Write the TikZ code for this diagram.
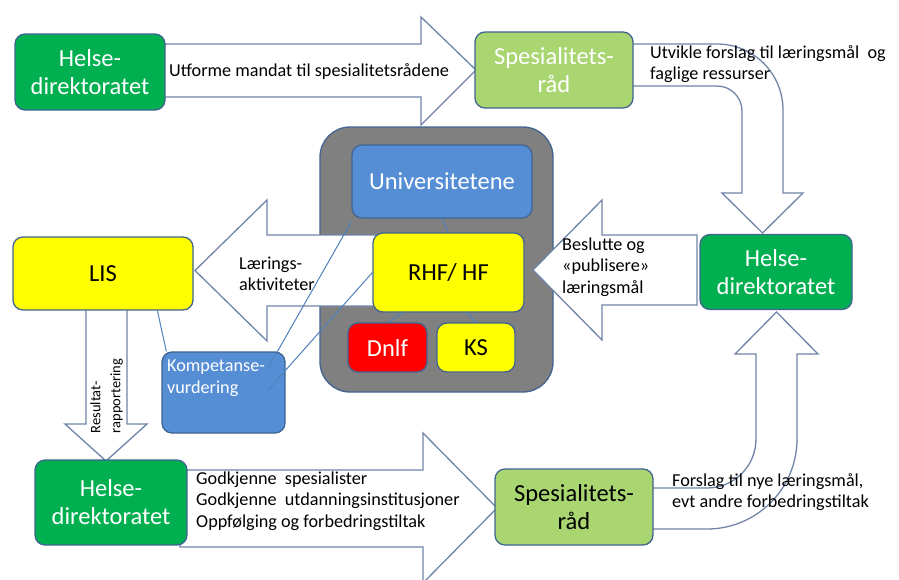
\documentclass[tikz,border=0pt]{standalone}
\usepackage{fontspec}
\setmainfont{Carlito}
\usetikzlibrary{calc}
\definecolor{hgreen}{RGB}{0,176,80}
\definecolor{lgreen}{RGB}{169,214,112}
\definecolor{hblue}{RGB}{85,142,213}
\definecolor{hyellow}{RGB}{255,255,0}
\definecolor{hred}{RGB}{255,0,0}
\definecolor{hgray}{RGB}{128,128,128}
\definecolor{boxline}{RGB}{65,100,145}
\definecolor{arrline}{RGB}{112,133,168}
\definecolor{thinline}{RGB}{79,129,189}
\newcommand\biglabel{\fontsize{24.5}{28}\selectfont}
\newcommand\smalltxt{\fontsize{18.2}{21.5}\selectfont}
\newcommand\tinytxt{\fontsize{14.5}{20}\selectfont}
\begin{document}
\begin{tikzpicture}[x=1pt,y=-1pt,
  box/.style={draw=boxline, line width=1.3pt, rounded corners=10pt, inner sep=0pt, align=center, font=\biglabel},
  blockarrow/.style={draw=arrline, line width=1.3pt, fill=white, line join=miter},
  thinl/.style={draw=thinline, line width=1pt},
  small/.style={font=\smalltxt, align=left, inner sep=0pt, anchor=west}]
\useasboundingbox[fill=white] (0,0) rectangle (899,579);

% gray container
\node[box, fill=hgray, rounded corners=30pt, minimum width=233pt, minimum height=265pt] (cont) at (436.5,259.5) {};

% block arrows
\path[blockarrow] (160,44) -- (421,44) -- (421,17) -- (476,70) -- (421,125) -- (421,97) -- (160,97) -- cycle;
\path[blockarrow] (630,44) -- (717,44) .. controls (753.5,44) and (783,73.5) .. (783,110) -- (783,193) -- (803,193) -- (762.5,233) -- (722,193) -- (742,193) -- (742,111) .. controls (742,97.2) and (730.8,86) .. (717,86) -- (630,86) -- cycle;
\path[blockarrow] (650,488) -- (707,488) .. controls (734.1,488) and (756,466.1) .. (756,439) -- (756,354) -- (735,354) -- (776.5,312) -- (818,354) -- (797,354) -- (797,439) .. controls (797,488.7) and (756.7,529) .. (707,529) -- (650,529) -- cycle;
\path[blockarrow] (180,470) -- (423,470) -- (423,433) -- (497,508) -- (423,583) -- (423,547) -- (180,547) -- cycle;
\path[blockarrow] (450,235) -- (267,235) -- (267,200) -- (195,270.5) -- (267,341) -- (267,306) -- (450,306) -- cycle;
\path[blockarrow] (697,235) -- (602,235) -- (602,200) -- (533,270) -- (602,340) -- (602,305) -- (697,305) -- cycle;
\path[blockarrow] (86,305) -- (86,424) -- (65,424) -- (106,461) -- (147,424) -- (127,424) -- (127,305) -- cycle;

% boxes
\node[box, fill=hgreen, text=white, minimum width=150pt, minimum height=76pt] (hd1) at (90,72) {Helse-\\direktoratet};
\node[box, fill=lgreen, text=white, minimum width=158pt, minimum height=76pt] (sr1) at (554,70) {Spesialitets-\\råd};
\node[box, fill=hgreen, text=white, minimum width=152pt, minimum height=75pt] (hd2) at (776,272) {Helse-\\direktoratet};
\node[box, fill=hyellow, minimum width=180pt, minimum height=73pt] (lis) at (103,273.5) {LIS};
\node[box, fill=hblue, minimum width=123pt, minimum height=81pt] (komp) at (223.5,392.5) {};
\node[box, fill=hblue, text=white, minimum width=180pt, minimum height=73pt] (univ) at (442,181.5) {Universitetene};
\node[box, fill=hyellow, minimum width=151pt, minimum height=79pt] (rhf) at (448.5,272.5) {RHF/ HF};
\node[box, fill=hred, text=white, minimum width=79pt, minimum height=49pt] (dnlf) at (387.5,347.5) {Dnlf};
\node[box, fill=hyellow, minimum width=78pt, minimum height=49pt] (ks) at (476,347.5) {KS};
\node[box, fill=hgreen, text=white, minimum width=152pt, minimum height=85pt] (hd3) at (111,502.5) {Helse-\\direktoratet};
\node[box, fill=lgreen, minimum width=158pt, minimum height=76pt] (sr2) at (574,507) {Spesialitets-\\råd};

% thin connector lines
\coordinate (k1) at (268,368);
\coordinate (k2) at (268,390);
\draw[thinl] ($(lis.south west)!0.8!(lis.south east)$) -- ($(komp.north west)!0.04!(komp.north east)$);
\draw[thinl] ($(univ.south west)!0.5!(univ.south east)$) -- (rhf.north);
\draw[thinl] ([yshift=-3pt]univ.south west) -- (k1);
\draw[thinl] (rhf.west) -- (k2);
\draw[thinl] ($(rhf.south west)!0.2!(rhf.south east)$) -- (dnlf.north);
\draw[thinl] ($(rhf.south west)!0.62!(rhf.south east)$) -- (ks.north);

% texts
\node[small, text=white, anchor=north west] (kompt) at (167,360) {Kompetanse-\\vurdering};
\node[small] (t1) at (169,72) {Utforme mandat til spesialitetsrådene};
\node[small] (t2) at (650,64) {Utvikle forslag til læringsmål\ \ og\\faglige ressurser};
\node[small] (t3) at (239,274) {Lærings-\\aktiviteter};
\node[small] (t4) at (562,267) {Beslutte og\\«publisere»\\læringsmål};
\node[small] (t5) at (196,501) {Godkjenne\ \ spesialister\\Godkjenne\ \ utdanningsinstitusjoner\\Oppfølging og forbedringstiltak};
\node[small] (t6) at (672,492) {Forslag til nye læringsmål,\\evt andre forbedringstiltak};
\node[font=\tinytxt, align=left, inner sep=0pt, rotate=90] (t7) at (106.5,396) {Resultat-\\rapportering};
\end{tikzpicture}
\end{document}
